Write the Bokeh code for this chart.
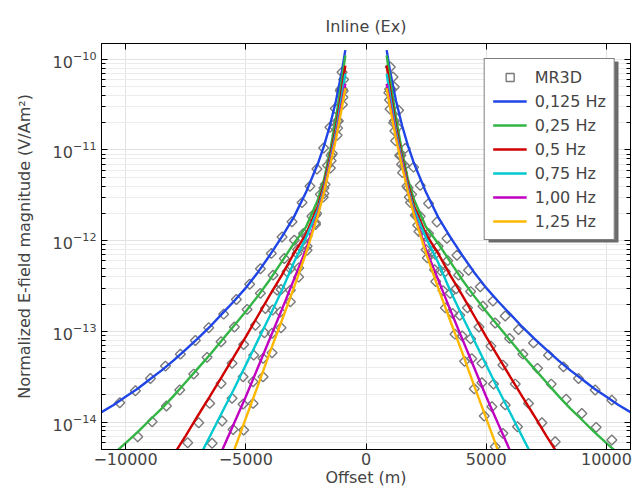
from bokeh.plotting import figure
from bokeh.models import (LogAxis, LinearAxis, Range1d, FixedTicker, LogTicker,
                          Legend, LegendItem, BoxAnnotation, ColumnDataSource)
from bokeh.embed import file_html
from bokeh.resources import INLINE

# ---------------- data ----------------
title_text = "Inline (Ex)"
x_label = "Offset (m)"
y_label = "Normalized E-field magnitude (V/Am\u00b2)"
x_ticks = [-10000, -5000, 0, 5000, 10000]

freq_labels = ["0,125 Hz", "0,25 Hz", "0,5 Hz", "0,75 Hz", "1,00 Hz", "1,25 Hz"]
freq_colors = ["#1f45e6", "#33b545", "#d00000", "#00c8d0", "#c000c0", "#ffb800"]

# |offset| (m) at which the modelled curves were read (same on both sides)
line_offsets = [860, 1000, 1250, 1500, 1750, 2000, 2500, 3000, 3500, 4000, 4500,
                5000, 5500, 6000, 6500, 7000, 7500, 8000, 8500, 9000, 9500,
                10000, 10500, 11000]

line_0125 = [1.26e-10, 7.41e-11, 3.47e-11, 1.86e-11, 1.10e-11, 7.08e-12, 3.39e-12,
             1.82e-12, 1.10e-12, 6.92e-13, 4.47e-13, 3.02e-13, 2.14e-13, 1.55e-13,
             1.12e-13, 8.32e-14, 6.31e-14, 4.79e-14, 3.72e-14, 2.95e-14, 2.34e-14,
             1.91e-14, 1.55e-14, 1.29e-14]
line_025 = [1.10e-10, 6.03e-11, 2.24e-11, 9.55e-12, 4.68e-12, 2.82e-12, 1.41e-12,
            9.33e-13, 5.89e-13, 3.72e-13, 2.45e-13, 1.66e-13, 1.15e-13, 7.94e-14,
            5.50e-14, 3.89e-14, 2.75e-14, 1.95e-14, 1.41e-14, 1.05e-14, 7.76e-15,
            5.89e-15, 4.47e-15, 3.39e-15]
line_05 = [8.51e-11, 4.68e-11, 1.78e-11, 8.32e-12, 4.17e-12, 2.40e-12, 1.17e-12,
           7.24e-13, 4.17e-13, 2.51e-13, 1.48e-13, 8.71e-14, 5.25e-14, 3.16e-14,
           1.91e-14, 1.17e-14, 7.08e-15, 4.37e-15, 2.69e-15]
line_075 = [6.92e-11, 3.98e-11, 1.58e-11, 7.59e-12, 3.80e-12, 2.19e-12, 1.07e-12,
            5.75e-13, 2.82e-13, 1.48e-13, 7.94e-14, 4.27e-14, 2.29e-14, 1.26e-14,
            6.92e-15, 3.80e-15]
line_100 = [5.37e-11, 3.31e-11, 1.41e-11, 7.08e-12, 3.55e-12, 2.00e-12, 7.94e-13,
            3.72e-13, 1.74e-13, 8.32e-14, 3.98e-14, 1.91e-14, 9.55e-15, 4.79e-15,
            2.40e-15]
line_125 = [4.79e-11, 2.95e-11, 1.32e-11, 6.61e-12, 3.39e-12, 1.91e-12, 7.24e-13,
            3.02e-13, 1.32e-13, 5.89e-14, 2.51e-14, 1.10e-14, 4.79e-15, 2.09e-15]

# MR3D markers (offset m, magnitude)
mr_x_0125 = [-10240, -9590, -8965, -8340, -7720, -7095, -6540, -5920, -5390, -4838,
             -4390, -3936, -3491, -3076, -2660, -2330, -2040, -1760, -1500, -1280,
             -1068, -998,
             1010, 1122, 1355, 1633, 1978, 2257, 2603, 2951, 3366, 3782, 4265, 4751,
             5279, 5790, 6343, 6966, 7590, 8213, 8836, 9530, 10224]
mr_y_0125 = [1.64e-14, 2.22e-14, 3.03e-14, 4.15e-14, 5.62e-14, 7.94e-14, 1.10e-13,
             1.55e-13, 2.25e-13, 3.31e-13, 4.90e-13, 7.24e-13, 1.10e-12, 1.62e-12,
             2.63e-12, 3.98e-12, 6.17e-12, 1.05e-11, 1.78e-11, 2.86e-11,
             4.50e-11, 7.20e-11,
             8.20e-11, 6.37e-11, 2.74e-11, 1.04e-11, 6.46e-12, 4.07e-12, 2.57e-12,
             1.61e-12, 1.06e-12, 6.92e-13, 4.73e-13, 3.10e-13, 2.16e-13, 1.48e-13,
             1.05e-13, 7.48e-14, 5.48e-14, 4.07e-14, 3.03e-14, 2.26e-14, 1.75e-14]
mr_x_025 = [-9493, -8894, -8300, -7747, -7165, -6609, -6027, -5474, -4946, -4393,
            -3865, -3396, -2980, -2600, -2250, -1900, -1600, -1300, -1050, -931,
            1050, 1176, 1300, 1600, 1900, 2250, 2600, 3000, 3400, 3850, 4350, 4863,
            5374, 5970, 6525, 7133, 7702, 8325, 8977, 9572, 10224]
mr_y_025 = [6.92e-15, 1.01e-14, 1.51e-14, 2.26e-14, 3.39e-14, 5.18e-14, 7.69e-14,
            1.12e-13, 1.75e-13, 2.63e-13, 4.17e-13, 6.37e-13, 1.01e-12, 1.20e-12,
            1.86e-12, 3.24e-12, 6.76e-12, 1.78e-11, 4.68e-11, 5.96e-11,
            4.68e-11, 4.94e-11, 1.78e-11, 6.76e-12, 3.24e-12, 1.86e-12, 1.20e-12,
            8.71e-13, 6.03e-13, 4.17e-13, 2.75e-13, 1.90e-13, 1.24e-13, 8.38e-14,
            5.62e-14, 3.92e-14, 2.63e-14, 1.79e-14, 1.25e-14, 8.77e-15, 6.36e-15]
mr_x_05 = [-7415, -6957, -6500, -6027, -5570, -5087, -4601, -4185, -3699, -3283,
           -2868, -2480, -2100, -1750, -1450, -1180, -980,
           980, 1180, 1450, 1750, 2100, 2480, 2880, 3300, 3750, 4220, 4700, 5195,
           5694, 6205, 6758, 7315, 7868]
mr_y_05 = [5.93e-15, 9.84e-15, 1.61e-14, 2.67e-14, 4.45e-14, 7.19e-14, 1.17e-13,
           1.79e-13, 2.85e-13, 4.54e-13, 7.23e-13, 1.12e-12, 1.91e-12, 3.80e-12,
           8.71e-12, 2.09e-11, 4.68e-11,
           4.68e-11, 2.09e-11, 8.71e-12, 3.80e-12, 1.91e-12, 1.12e-12, 7.08e-13,
           4.57e-13, 2.95e-13, 1.82e-13, 1.12e-13, 6.89e-14, 4.26e-14, 2.63e-14,
           1.61e-14, 9.84e-15, 6.08e-15]
mr_x_075 = [-6400, -5985, -5570, -5112, -4671, -4227, -3882, -3533, -3146, -2843,
            -2450, -2050, -1700, -1400, -1150, -950,
            950, 1150, 1400, 1700, 2050, 2400, 2750, 3100, 3500, 3900, 4350, 4821,
            5304, 5790, 6301]
mr_y_075 = [5.85e-15, 1.03e-14, 1.83e-14, 3.16e-14, 5.48e-14, 9.66e-14, 1.72e-13,
            2.90e-13, 4.94e-13, 8.00e-13, 1.12e-12, 2.00e-12, 4.17e-12, 9.12e-12,
            2.09e-11, 4.47e-11,
            4.27e-11, 2.00e-11, 8.71e-12, 3.98e-12, 1.91e-12, 1.17e-12, 7.59e-13,
            4.68e-13, 2.63e-13, 1.51e-13, 8.32e-14, 4.47e-14, 2.63e-14, 1.55e-14,
            8.91e-15]
mr_x_100 = [-5528, -5112, -4697, -4281, -3907, -3562, -3146, -2800, -2450, -2100,
            -1750, -1450, -1180, -960,
            980, 1200, 1480, 1800, 2150, 2500, 2850, 3200, 3600, 4000, 4400, 4821,
            5237, 5694]
mr_y_100 = [8.32e-15, 1.58e-14, 2.79e-14, 5.05e-14, 9.55e-14, 1.64e-13, 2.85e-13,
            5.01e-13, 8.71e-13, 1.58e-12, 3.31e-12, 7.59e-12, 1.74e-11, 3.80e-11,
            3.55e-11, 1.62e-11, 6.92e-12, 3.02e-12, 1.48e-12, 7.94e-13, 4.79e-13,
            2.82e-13, 1.58e-13, 8.91e-14, 5.01e-14, 2.72e-14, 1.48e-14, 7.53e-15]
mr_x_125 = [-5087, -4697, -4281, -3907, -3533, -3146, -2801, -2452, -2100, -1780,
            -1480, -1200, -980,
            1000, 1230, 1520, 1850, 2200, 2550, 2900, 3300, 3700, 4100, 4500, 4917,
            5374]
mr_y_125 = [8.18e-15, 1.61e-14, 3.16e-14, 5.81e-14, 1.10e-13, 2.12e-13, 3.98e-13,
            7.85e-13, 1.51e-12, 3.02e-12, 6.31e-12, 1.45e-11, 3.16e-11,
            2.82e-11, 1.26e-11, 5.62e-12, 2.63e-12, 1.26e-12, 6.46e-13, 3.55e-13,
            1.82e-13, 9.33e-14, 4.68e-14, 2.34e-14, 1.17e-14, 5.37e-15]

line_values = [line_0125, line_025, line_05, line_075, line_100, line_125]
mr_x_all = mr_x_0125 + mr_x_025 + mr_x_05 + mr_x_075 + mr_x_100 + mr_x_125
mr_y_all = mr_y_0125 + mr_y_025 + mr_y_05 + mr_y_075 + mr_y_100 + mr_y_125

# ---------------- figure ----------------
FONT = "DejaVu Sans"
FS = "16px"
W, H = 643, 489
BL, BR, BT, BB = 101, 13, 43, 40

p = figure(width=W, height=H, output_backend="svg", toolbar_location=None,
           y_axis_type="log", x_range=Range1d(-11000, 11000),
           y_range=Range1d(5.0e-15, 1.49e-10),
           min_border_left=BL, min_border_right=BR, min_border_top=BT,
           min_border_bottom=BB)

p.title.text = title_text
p.title.align = "center"
p.title.text_font = FONT
p.title.text_font_size = FS
p.title.text_font_style = "normal"
p.title.standoff = 15

p.outline_line_color = "black"
p.outline_line_width = 1
p.background_fill_color = "white"
p.border_fill_color = "white"

# grids
p.xgrid.grid_line_color = "#e2e2e2"
p.ygrid.grid_line_color = "#e2e2e2"
p.ygrid.minor_grid_line_color = "#ececec"

# bottom x axis
xa = p.xaxis[0]
xa.ticker = FixedTicker(ticks=x_ticks)
xa.axis_label = x_label
# left y axis
ya = p.yaxis[0]
ya.ticker = LogTicker(mantissas=[1], num_minor_ticks=10)
ya.axis_label = y_label

for ax in (xa, ya):
    ax.axis_label_text_font = FONT
    ax.axis_label_text_font_size = FS
    ax.axis_label_text_font_style = "normal"
    ax.major_label_text_font = FONT
    ax.major_label_text_font_size = FS
    ax.major_tick_in = 6
    ax.major_tick_out = 0
    ax.minor_tick_in = 4
    ax.minor_tick_out = 0
    ax.axis_line_color = "black"
    ax.major_tick_line_color = "black"
    ax.minor_tick_line_color = "black"
xa.minor_tick_line_color = None
xa.major_label_standoff = 3
xa.axis_label_standoff = 0
ya.major_label_standoff = 5
ya.axis_label_standoff = 16

# mirror axes (ticks only, invisible labels)
top_ax = LinearAxis(ticker=FixedTicker(ticks=x_ticks), major_tick_in=6, major_tick_out=0,
                    minor_tick_line_color=None, major_label_text_font_size="1px",
                    major_label_text_alpha=0.0, major_label_standoff=0,
                    axis_line_color="black")
right_ax = LogAxis(ticker=LogTicker(mantissas=[1], num_minor_ticks=10),
                   major_tick_in=6, major_tick_out=0, minor_tick_in=4, minor_tick_out=0,
                   major_label_text_font_size="1px", major_label_text_alpha=0.0,
                   major_label_standoff=0, axis_line_color="black")
p.add_layout(top_ax, "above")
p.add_layout(right_ax, "right")

# legend shadow (screen units relative to the frame)
frame_w = W - BL - BR
frame_h = H - BT - BB
leg_w, leg_h, leg_m, sh = 132, 181, 15, 3
shadow = BoxAnnotation(left=frame_w - leg_m - leg_w + sh + 2, right=frame_w - leg_m + sh,
                       top=frame_h - leg_m - sh, bottom=frame_h - leg_m - leg_h - sh,
                       left_units="screen", right_units="screen",
                       top_units="screen", bottom_units="screen",
                       fill_color="#6b6b6b", fill_alpha=1.0, line_color=None)
p.add_layout(shadow)

# MR3D markers (open diamonds = squares turned by 45 degrees)
mr_src = ColumnDataSource(dict(x=mr_x_all, y=mr_y_all))
r_mr = p.scatter("x", "y", source=mr_src, marker="square", size=7, angle=0.7854,
                 fill_color=None, line_color="#7a7a7a", line_width=1.4)

# modelled curves: left and right branch of each frequency
line_renderers = []
for vals, col in zip(line_values, freq_colors):
    offs = line_offsets[:len(vals)]
    left_x = [-o for o in reversed(offs)]
    left_y = list(reversed(vals))
    r = p.multi_line(xs=[left_x, list(offs)], ys=[left_y, list(vals)],
                     line_color=col, line_width=2.4)
    line_renderers.append(r)

items = [LegendItem(label="MR3D", renderers=[r_mr])]
for lab, r in zip(freq_labels, line_renderers):
    items.append(LegendItem(label=lab, renderers=[r]))

legend = Legend(items=items, location="top_right", margin=leg_m,
                border_line_color="black", border_line_width=1,
                background_fill_color="white", background_fill_alpha=1.0,
                label_text_font=FONT, label_text_font_size=FS,
                glyph_width=34, glyph_height=20, label_height=20,
                spacing=4, padding=8, label_standoff=8)
p.add_layout(legend)

open("out.html", "w").write(file_html(p, INLINE))
